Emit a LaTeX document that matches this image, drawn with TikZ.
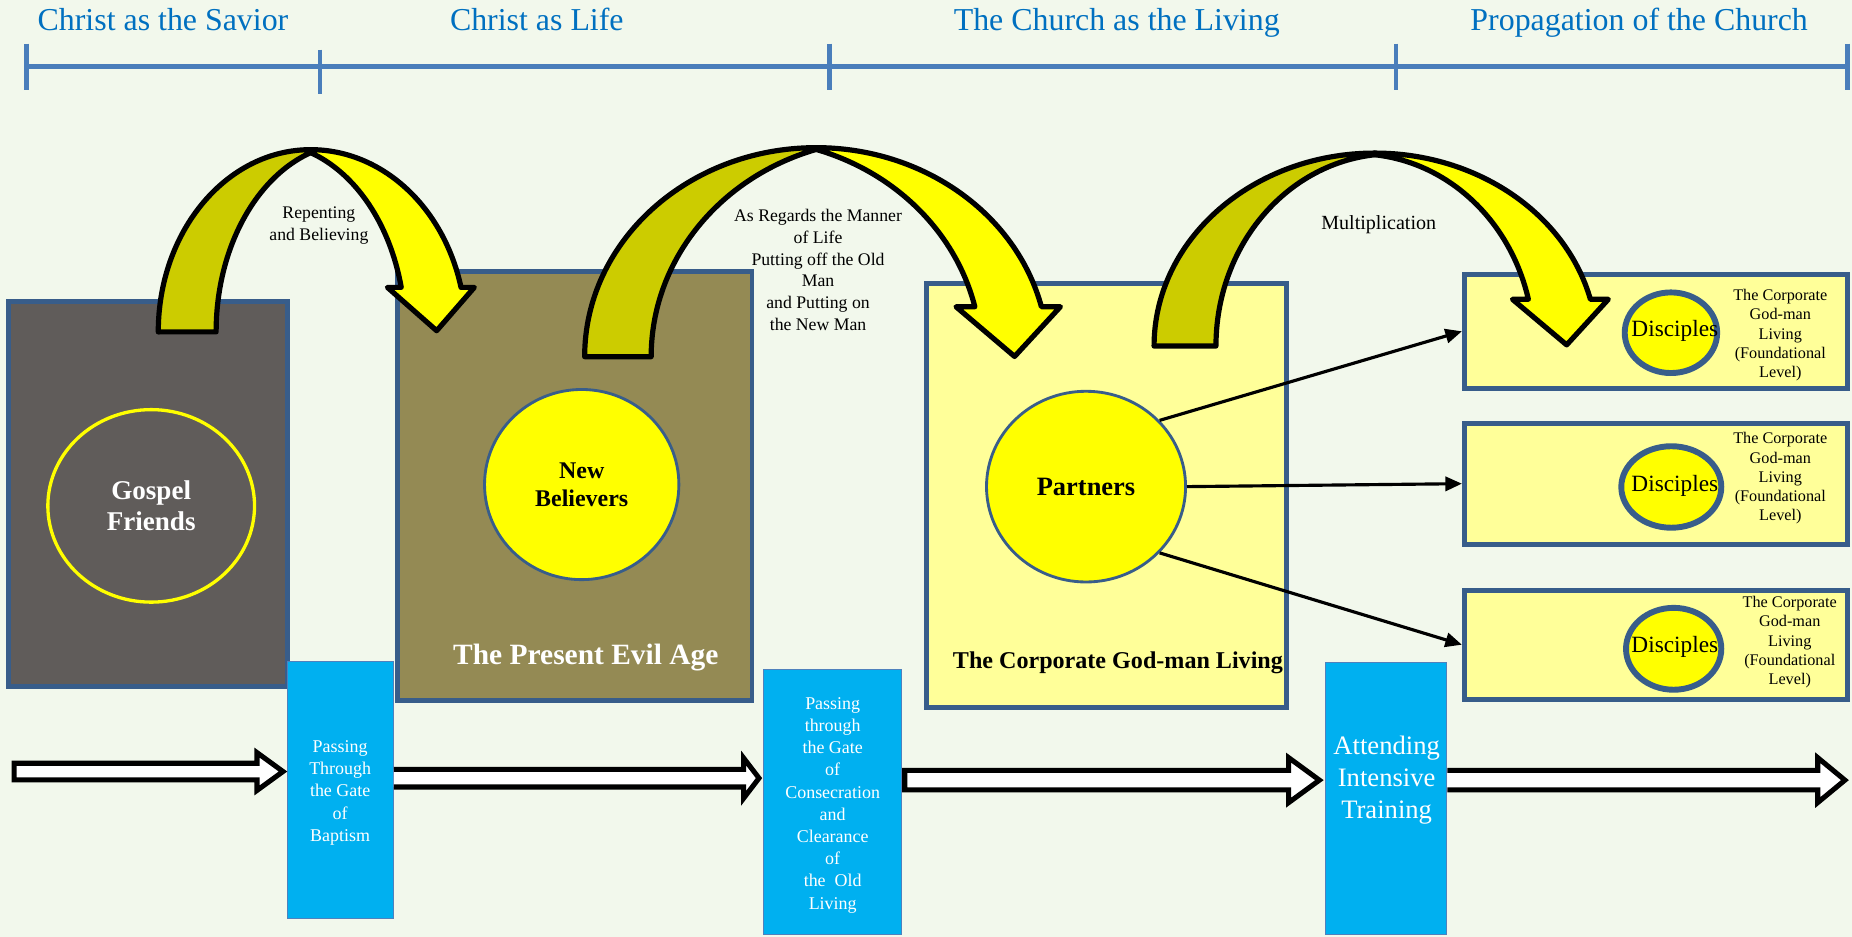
\documentclass[tikz,border=0pt]{standalone}
\usepackage{fontspec}
\setmainfont{Liberation Serif}
\usetikzlibrary{arrows.meta,calc,shapes.geometric}

\tikzset{every picture/.style={line width=0.75pt}}
\tikzset{
  backdrop/.style={fill={rgb, 255:red, 242; green, 248; blue, 236 }},
  period/.style={draw={rgb, 255:red, 74; green, 126; blue, 187 }, line width=3pt},
  periodname/.style={text={rgb, 255:red, 0; green, 112; blue, 192 }, font=\fontsize{20.25}{24}\selectfont, anchor=base, inner sep=0pt},
  realm/.style={draw={rgb, 255:red, 56; green, 93; blue, 138 }, line width=3pt, inner sep=0pt},
  worldfill/.style={realm, fill={rgb, 255:red, 96; green, 92; blue, 90 }},
  agefill/.style={realm, fill={rgb, 255:red, 148; green, 138; blue, 84 }},
  palefill/.style={realm, fill={rgb, 255:red, 255; green, 255; blue, 153 }},
  people/.style={ellipse, inner sep=0pt, draw={rgb, 255:red, 56; green, 93; blue, 138 }, fill={rgb, 255:red, 255; green, 255; blue, 0 }, line width=1.8pt},
  disciple/.style={people, line width=3.75pt},
  friendring/.style={ellipse, inner sep=0pt, draw={rgb, 255:red, 255; green, 255; blue, 0 }, line width=2.1pt, text=white, align=center, font=\bfseries\fontsize{17.2}{20.1}\selectfont},
  disctext/.style={font=\fontsize{14.8}{17}\selectfont, inner sep=0pt},
  sidenote/.style={align=center, font=\fontsize{10.3}{12.2}\selectfont, inner sep=0pt},
  gatebox/.style={fill={rgb, 255:red, 0; green, 176; blue, 240 }, draw={rgb, 255:red, 79; green, 129; blue, 189 }, line width=0.6pt, inner sep=0pt},
  gatetext/.style={text=white, align=center, font=\fontsize{11.4}{14.1}\selectfont, inner sep=0pt},
  arcnote/.style={align=center, font=\fontsize{11.25}{13.8}\selectfont, inner sep=0pt},
  backarc/.style={fill={rgb, 255:red, 204; green, 204; blue, 0 }, draw=black, line width=3.3pt, line join=round},
  frontarc/.style={fill={rgb, 255:red, 255; green, 255; blue, 0 }, draw=black, line width=3.3pt, line join=round},
  hollow/.style={fill=white, draw=black, line width=3.2pt, line join=miter},
  spoke/.style={draw=black, line width=2pt, -{Triangle[length=10.5pt,width=9pt]}},
}

\begin{document}
\begin{tikzpicture}[x=0.75pt,y=0.75pt,yscale=-1,xscale=1]
	\useasboundingbox (0,0) rectangle (1568,793);
	%Shape: Rectangle
	\fill[backdrop] (0,0) rectangle (1568,793);

	%Straight Lines
	\draw[period] (22.5,56.5) -- (1564,56.5);
	\foreach \tx/\ya/\yb in {22.5/37/76,271/42/80,702/37/76,1182/37/76,1564/37/76}
		\draw[period] (\tx,\ya) -- (\tx,\yb);

	% Text Node
	\node[periodname] (savior) at (138,26) {Christ as the Savior};
	% Text Node
	\node[periodname] (life) at (454.5,26) {Christ as Life};
	% Text Node
	\node[periodname] (living) at (945.5,26) {The Church as the Living};
	% Text Node
	\node[periodname] (propagation) at (1387.8,26) {Propagation of the Church};

	%Shape: Rectangle
	\node[worldfill, minimum width=177pt, minimum height=244.5pt] (world) at (125.5,418) {};
	%Shape: Rectangle
	\node[agefill, minimum width=225.15pt, minimum height=272.55pt] (evilage) at (486.6,411.3) {};
	%Shape: Rectangle
	\node[palefill, minimum width=228.75pt, minimum height=269.25pt] (godman) at (937,419.4) {};
	%Shape: Rectangle
	\node[palefill, minimum width=243.4pt, minimum height=72.6pt] (church1) at (1402,280.5) {};
	\node[palefill, minimum width=243.4pt, minimum height=76.8pt] (church2) at (1402,409.5) {};
	\node[palefill, minimum width=243.4pt, minimum height=69.2pt] (church3) at (1402,545.85) {};

	%Shape: Ellipse
	\node[friendring, minimum width=131.25pt, minimum height=122.25pt] (friends) at (128,428.3) {Gospel\\Friends};
	%Shape: Ellipse
	\node[people, minimum width=123.4pt, minimum height=120.75pt, align=center, font=\bfseries\fontsize{15.2}{18}\selectfont] (believers) at (492.5,410.25) {New\\Believers};
	%Shape: Ellipse
	\node[people, minimum width=126.4pt, minimum height=121.1pt, font=\bfseries\fontsize{16.8}{20}\selectfont] (partners) at (919.5,412) {Partners};
	%Shape: Ellipse
	\node[disciple, minimum width=58.7pt, minimum height=51.2pt] (disc1) at (1414.7,281.7) {};
	\node[disciple, minimum width=63.5pt, minimum height=51.75pt] (disc2) at (1415,412.3) {};
	\node[disciple, minimum width=60.5pt, minimum height=52pt] (disc3) at (1417,549.3) {};

	% Text Node
	\node[disctext] (disc1name) at (1418,280.5) {Disciples};
	\node[disctext] (disc2name) at (1418,411) {Disciples};
	\node[disctext] (disc3name) at (1418,548) {Disciples};
	% Text Node
	\node[sidenote] (level1) at (1507.3,283.8) {The Corporate\\God-man\\Living\\(Foundational\\Level)};
	\node[sidenote] (level2) at (1507.3,405.1) {The Corporate\\God-man\\Living\\(Foundational\\Level)};
	\node[sidenote] (level3) at (1515.3,543.8) {The Corporate\\God-man\\Living\\(Foundational\\Level)};
	% Text Node
	\node[anchor=base, text=white, font=\bfseries\fontsize{18.7}{22}\selectfont, inner sep=0pt] (agename) at (496,563) {The Present Evil Age};
	% Text Node
	\node[anchor=base, font=\bfseries\fontsize{15.3}{18}\selectfont, inner sep=0pt] (godmanname) at (946.5,566) {The Corporate God-man Living};

	%Shape: Rectangle
	\node[gatebox, minimum width=67.5pt, minimum height=163.5pt] (gate1) at (288,669) {};
	\node[gatebox, minimum width=88.1pt, minimum height=168pt] (gate2) at (704.75,679) {};
	\node[gatebox, minimum width=76.9pt, minimum height=172.5pt] (gate3) at (1173.75,676) {};
	% Text Node
	\node[gatetext] (gate1text) at (288,671.2) {Passing\\Through\\the Gate\\of\\Baptism};
	\node[gatetext] (gate2text) at (705,681.7) {Passing\\through\\the Gate\\of\\Consecration\\and\\Clearance\\of\\the\ \ Old\\Living};
	\node[gatetext, font=\fontsize{16.9}{20.25}\selectfont] (gate3text) at (1174,660.5) {Attending\\Intensive\\Training};

	%Block Arrow
	\coordinate (tailA) at (12,653.2);
	\coordinate (tipA) at ($(gate1.west |- tailA)+(-3,0)$);
	\draw[hollow] ($(tailA)+(0,-7)$) -- ($(tipA)+(-22,-7)$) -- ($(tipA)+(-22,-16)$) -- (tipA) -- ($(tipA)+(-22,16)$) -- ($(tipA)+(-22,7)$) -- ($(tailA)+(0,7)$) -- cycle;
	%Block Arrow
	\coordinate (tailB) at (gate1.east |- 0,658.8);
	\coordinate (tipB) at ($(gate2.west |- tailB)+(-3,0)$);
	\draw[hollow] ($(tailB)+(0,-7.5)$) -- ($(tipB)+(-13,-7.5)$) -- ($(tipB)+(-13,-17)$) -- (tipB) -- ($(tipB)+(-13,17)$) -- ($(tipB)+(-13,7.5)$) -- ($(tailB)+(0,7.5)$);
	%Block Arrow
	\coordinate (tailC) at (766,660.5);
	\coordinate (tipC) at ($(gate3.west |- tailC)+(-5,0)$);
	\draw[hollow] ($(tailC)+(0,-8.2)$) -- ($(tipC)+(-26,-8.2)$) -- ($(tipC)+(-26,-19)$) -- (tipC) -- ($(tipC)+(-26,19)$) -- ($(tipC)+(-26,8.2)$) -- ($(tailC)+(0,8.2)$) -- cycle;
	%Block Arrow
	\coordinate (tailD) at (gate3.east |- 0,660.5);
	\coordinate (tipD) at (1562,660.5);
	\draw[hollow] ($(tailD)+(0,-8.2)$) -- ($(tipD)+(-23,-8.2)$) -- ($(tipD)+(-23,-19)$) -- (tipD) -- ($(tipD)+(-23,19)$) -- ($(tipD)+(-23,8.2)$) -- ($(tailD)+(0,8.2)$);

	%Straight Lines
	\draw[spoke] (partners.42) -- (church1.west);
	\draw[spoke] (partners.east) -- (church2.west);
	\draw[spoke] (partners.-42) -- (church3.west);

	%Curve Arrow
	\draw[backarc] (134,281) arc[start angle=180, end angle=270, x radius=129, y radius=154.3] -- (263,129.2) arc[start angle=251.57, end angle=180, x radius=117, y radius=160] -- cycle;
	\draw[frontarc] (263,126.7) arc[start angle=270, end angle=345.86, x radius=131.3, y radius=154.3] -- (401.6,243.3) -- (369.7,280) -- (328,243.3) -- (339.7,243.3) arc[start angle=346.37, end angle=288.43, x radius=117, y radius=160] -- cycle;
	%Curve Arrow
	\draw[backarc] (495,302) arc[start angle=180, end angle=270, x radius=196, y radius=177] -- (691,126.5) arc[start angle=252.51, end angle=180, x radius=199.7, y radius=184] -- cycle;
	\draw[frontarc] (691,125) arc[start angle=270, end angle=346.17, x radius=196.4, y radius=177] -- (897.8,259.7) -- (859,301.8) -- (809.4,259.7) -- (825.35,259.7) arc[start angle=346.71, end angle=287.49, x radius=199.7, y radius=184] -- cycle;
	%Curve Arrow
	\draw[backarc] (977.1,293) arc[start angle=180, end angle=270, x radius=186.9, y radius=163.4] -- (1164,131) arc[start angle=264.24, end angle=180, x radius=149.5, y radius=162.8] -- cycle;
	\draw[frontarc] (1164,129.6) arc[start angle=270, end angle=345.98, x radius=188.1, y radius=163.4] -- (1361.7,253.4) -- (1326.4,292) -- (1280.5,253.4) -- (1294,253.4) arc[start angle=345.92, end angle=275.76, x radius=149.5, y radius=162.8] -- cycle;

	% Text Node
	\node[arcnote] (repent) at (270,191) {Repenting\\and Believing};
	% Text Node
	\node[arcnote] (manner) at (692.6,228.5) {As Regards the Manner\\of Life\\Putting off the Old\\Man\\and Putting on\\the New Man};
	% Text Node
	\node[arcnote, font=\fontsize{12.75}{15}\selectfont, anchor=base] (multiply) at (1167.3,194.2) {Multiplication};

\end{tikzpicture}
\end{document}
